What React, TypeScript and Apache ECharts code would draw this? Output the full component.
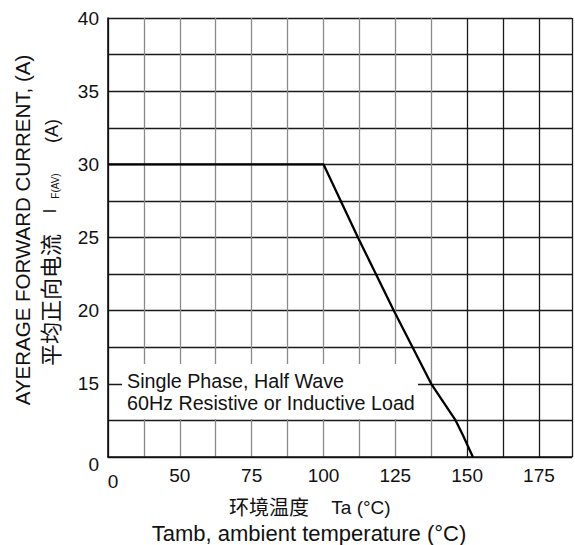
import React, { useEffect, useRef } from "react";
import * as echarts from "echarts";

// Derating curve: ambient temperature (°C, axis position) vs average forward current (A, axis position)
const curveTemp = [25, 100, 112, 124.5, 137.5, 146, 148.5, 152];
const curveCurrent = [30, 30, 25, 20, 15, 12.5, 11.5, 10];

const xTickLabels = ["0", "50", "75", "100", "125", "150", "175"]; // at positions 25..175 step 25
const yTickLabels = ["0", "15", "20", "25", "30", "35", "40"]; // at positions 10..40 step 5

const annotationLines = ["Single Phase, Half Wave", "60Hz Resistive or Inductive Load"];
const yTitleEn = "AYERAGE FORWARD CURRENT, (A)";
const yTitleCn = "平均正向电流";
const xTitleCn = "环境温度";
const xTitleUnit = "Ta (°C)";
const xTitleEn = "Tamb, ambient temperature (°C)";

const FONT = "'Liberation Sans', Arial, Helvetica, sans-serif";
const CJK = "'Noto Sans CJK SC', 'Noto Sans CJK TC', sans-serif";

const grayV = "#8a8a8a";
const darkV = "#1a1a1a";
const vColors = [darkV, grayV, grayV, grayV, grayV, grayV, grayV, grayV, grayV, grayV, darkV, darkV, darkV, darkV];

export default function App() {
  const ref = useRef<HTMLDivElement>(null);

  useEffect(() => {
    if (!ref.current) return;
    const chart = echarts.init(ref.current, undefined, { renderer: "svg" });
    const data = curveTemp.map((t, i) => [t, curveCurrent[i]]);

    const option: any = {
      animation: false,
      backgroundColor: "#ffffff",
      grid: { left: 108, top: 18, right: 0, bottom: 88, containLabel: false },
      xAxis: {
        type: "value",
        min: 25,
        max: 186.5,
        interval: 12.5,
        axisLine: { show: true, lineStyle: { color: "#111", width: 1.6 } },
        axisTick: { show: false },
        splitLine: { show: true, lineStyle: { color: vColors, width: 1.3 } },
        axisLabel: {
          margin: 9,
          color: "#111",
          fontFamily: FONT,
          fontSize: 19,
          formatter: (v: number) => {
            if (Math.abs(v % 25) > 1e-6 || v > 175) return "";
            const idx = Math.round((v - 25) / 25);
            const s = xTickLabels[idx];
            return idx === 0 ? "{z|" + s + "}" : s;
          },
          rich: { z: { fontFamily: FONT, fontSize: 19, color: "#111", padding: [6, 0, 0, 10] } },
        },
      },
      yAxis: {
        type: "value",
        min: 10,
        max: 40,
        interval: 2.5,
        axisLine: { show: true, lineStyle: { color: "#111", width: 1.6 } },
        axisTick: { show: false },
        splitLine: { show: true, lineStyle: { color: "#1a1a1a", width: 1.3 } },
        axisLabel: {
          margin: 9,
          color: "#111",
          fontFamily: FONT,
          fontSize: 19,
          formatter: (v: number) => {
            if (Math.abs(v % 5) > 1e-6) return "";
            const idx = Math.round((v - 10) / 5);
            const s = yTickLabels[idx];
            return idx === 0 ? "{z|" + s + "}" : s;
          },
          rich: { z: { fontFamily: FONT, fontSize: 19, color: "#111", padding: [14, 0, 0, 0] } },
        },
      },
      series: [
        {
          type: "line",
          data,
          showSymbol: false,
          lineStyle: { color: "#000", width: 2.3 },
          z: 5,
        },
      ],
      graphic: [
        { type: "rect", z: 50, shape: { x: 122, y: 364, width: 296, height: 55 }, style: { fill: "#fff" } },
        {
          type: "text", z: 51, x: 127, y: 381,
          style: { text: annotationLines[0], font: `19.7px ${FONT}`, fill: "#111", verticalAlign: "middle" },
        },
        {
          type: "text", z: 51, x: 127, y: 403,
          style: { text: annotationLines[1], font: `19.7px ${FONT}`, fill: "#111", verticalAlign: "middle" },
        },
        {
          type: "text", z: 51, x: 22, y: 230, rotation: Math.PI / 2,
          style: { text: yTitleEn, font: `20.5px ${FONT}`, fill: "#111", align: "center", verticalAlign: "middle" },
        },
        {
          type: "text", z: 51, x: 49, y: 300, rotation: Math.PI / 2,
          style: { text: yTitleCn, font: `22px ${CJK}`, fill: "#111", align: "center", verticalAlign: "middle" },
        },
        {
          type: "text", z: 51, x: 50, y: 211, rotation: Math.PI / 2,
          style: { text: "I", font: `18px ${FONT}`, fill: "#111", align: "center", verticalAlign: "middle" },
        },
        {
          type: "text", z: 51, x: 55, y: 186, rotation: Math.PI / 2,
          style: { text: "F(AV)", font: `10px ${FONT}`, fill: "#111", align: "center", verticalAlign: "middle" },
        },
        {
          type: "text", z: 51, x: 52, y: 131, rotation: Math.PI / 2,
          style: { text: "(A)", font: `18px ${FONT}`, fill: "#111", align: "center", verticalAlign: "middle" },
        },
        {
          type: "text", z: 51, x: 269, y: 506,
          style: { text: xTitleCn, font: `20px ${CJK}`, fill: "#111", align: "center", verticalAlign: "middle" },
        },
        {
          type: "text", z: 51, x: 361, y: 507,
          style: { text: xTitleUnit, font: `19px ${FONT}`, fill: "#111", align: "center", verticalAlign: "middle" },
        },
        {
          type: "text", z: 51, x: 309, y: 533,
          style: { text: xTitleEn, font: `22px ${FONT}`, fill: "#111", align: "center", verticalAlign: "middle" },
        },
      ],
    };

    chart.setOption(option);
    return () => chart.dispose();
  }, []);

  return <div ref={ref} style={{ position: "absolute", left: 0, top: 0, width: 575, height: 545 }} />;
}
